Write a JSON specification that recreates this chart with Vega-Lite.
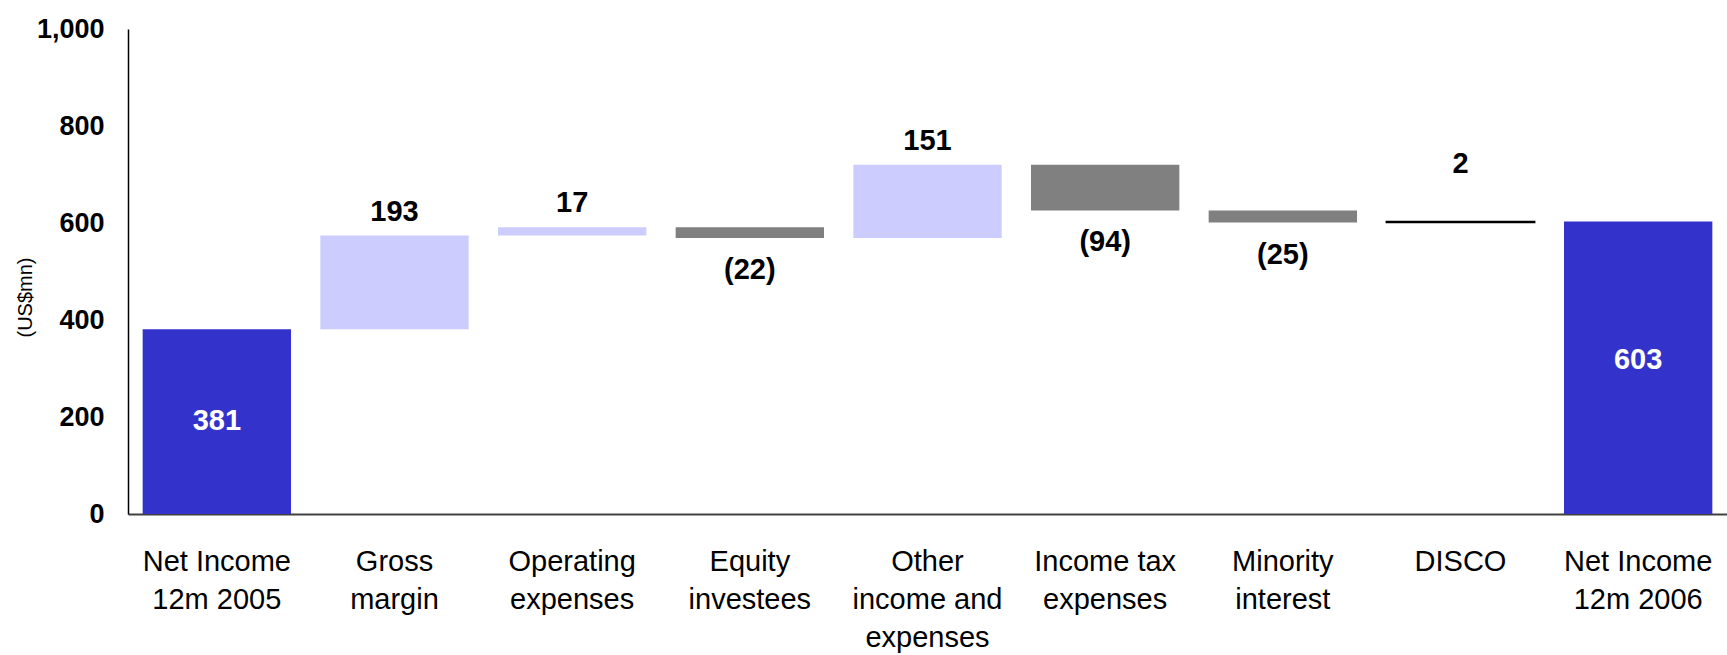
{
  "$schema": "https://vega.github.io/schema/vega-lite/v6.json",
  "width": 1599,
  "height": 485,
  "autosize": {"type": "none"},
  "padding": {"left": 128, "top": 29, "right": 0, "bottom": 141},
  "background": "white",
  "config": {"view": {"stroke": null}, "font": "Liberation Sans"},
  "data": {
    "values": [
      {"category": "Net Income\n12m 2005", "start": 0, "end": 381, "delta": 381, "kind": "Total"},
      {"category": "Gross\nmargin", "start": 381, "end": 574, "delta": 193, "kind": "Increase"},
      {"category": "Operating\nexpenses", "start": 574, "end": 591, "delta": 17, "kind": "Increase"},
      {"category": "Equity\ninvestees", "start": 591, "end": 569, "delta": -22, "kind": "Decrease"},
      {"category": "Other\nincome and\nexpenses", "start": 569, "end": 720, "delta": 151, "kind": "Increase"},
      {"category": "Income tax\nexpenses", "start": 720, "end": 626, "delta": -94, "kind": "Decrease"},
      {"category": "Minority\ninterest", "start": 626, "end": 601, "delta": -25, "kind": "Decrease"},
      {"category": "DISCO", "start": 601, "end": 603, "delta": 2, "kind": "Increase"},
      {"category": "Net Income\n12m 2006", "start": 0, "end": 603, "delta": 603, "kind": "Total"}
    ]
  },
  "encoding": {
    "x": {
      "field": "category",
      "type": "nominal",
      "sort": null,
      "scale": {"paddingInner": 0.165, "paddingOuter": 0.0825},
      "axis": {
        "title": null,
        "labelAngle": 0,
        "labelExpr": "split(datum.value, '\\n')",
        "labelFont": "Liberation Sans",
        "labelFontSize": 29,
        "labelLineHeight": 38,
        "labelColor": "black",
        "labelPadding": 33,
        "labelLimit": 0,
        "labelBaseline": "top",
        "ticks": false,
        "domainColor": "#404040",
        "domainWidth": 2,
        "grid": false
      }
    }
  },
  "layer": [
    {
      "mark": {"type": "bar"},
      "encoding": {
        "y": {
          "field": "start",
          "type": "quantitative",
          "scale": {"domain": [0, 1000], "nice": false},
          "axis": {
            "values": [0, 200, 400, 600, 800, 1000],
            "format": ",.0f",
            "title": "(US$mn)",
            "titleFont": "Liberation Sans",
            "titleFontSize": 20,
            "titleFontWeight": "normal",
            "titleColor": "black",
            "titleX": -103,
            "titleY": 268,
            "titleAngle": -90,
            "titleAlign": "center",
            "titleBaseline": "middle",
            "labelFont": "Liberation Sans",
            "labelFontSize": 27,
            "labelFontWeight": "bold",
            "labelColor": "black",
            "labelPadding": 24,
            "ticks": false,
            "grid": false,
            "domainColor": "black",
            "domainWidth": 1.5
          }
        },
        "y2": {"field": "end"},
        "color": {
          "field": "kind",
          "type": "nominal",
          "scale": {"domain": ["Total", "Increase", "Decrease"], "range": ["#3333CC", "#CCCCFF", "#808080"]},
          "legend": null
        },
        "stroke": {
          "condition": {"test": "datum.category === 'DISCO'", "value": "black"},
          "value": null
        },
        "strokeWidth": {"value": 1.5}
      }
    },
    {
      "transform": [{"filter": "datum.kind === 'Increase' && datum.category !== 'DISCO'"}],
      "mark": {"type": "text", "baseline": "middle", "dy": -24, "fontSize": 29, "fontWeight": "bold", "font": "Liberation Sans", "color": "black"},
      "encoding": {
        "y": {"field": "end", "type": "quantitative"},
        "text": {"field": "delta", "type": "quantitative", "format": "(.0f"}
      }
    },
    {
      "transform": [{"filter": "datum.category === 'DISCO'"}],
      "mark": {"type": "text", "baseline": "middle", "dy": -58, "fontSize": 29, "fontWeight": "bold", "font": "Liberation Sans", "color": "black"},
      "encoding": {
        "y": {"field": "end", "type": "quantitative"},
        "text": {"field": "delta", "type": "quantitative", "format": "(.0f"}
      }
    },
    {
      "transform": [{"filter": "datum.kind === 'Decrease'"}],
      "mark": {"type": "text", "baseline": "middle", "dy": 32, "fontSize": 29, "fontWeight": "bold", "font": "Liberation Sans", "color": "black"},
      "encoding": {
        "y": {"field": "end", "type": "quantitative"},
        "text": {"field": "delta", "type": "quantitative", "format": "(.0f"}
      }
    },
    {
      "transform": [{"filter": "datum.category === 'Net Income\\n12m 2005'"}],
      "mark": {"type": "text", "baseline": "middle", "dy": 92, "fontSize": 29, "fontWeight": "bold", "font": "Liberation Sans", "color": "white"},
      "encoding": {
        "y": {"field": "end", "type": "quantitative"},
        "text": {"field": "delta", "type": "quantitative", "format": "(.0f"}
      }
    },
    {
      "transform": [{"filter": "datum.category === 'Net Income\\n12m 2006'"}],
      "mark": {"type": "text", "baseline": "middle", "dy": 138, "fontSize": 29, "fontWeight": "bold", "font": "Liberation Sans", "color": "white"},
      "encoding": {
        "y": {"field": "end", "type": "quantitative"},
        "text": {"field": "delta", "type": "quantitative", "format": "(.0f"}
      }
    }
  ]
}
